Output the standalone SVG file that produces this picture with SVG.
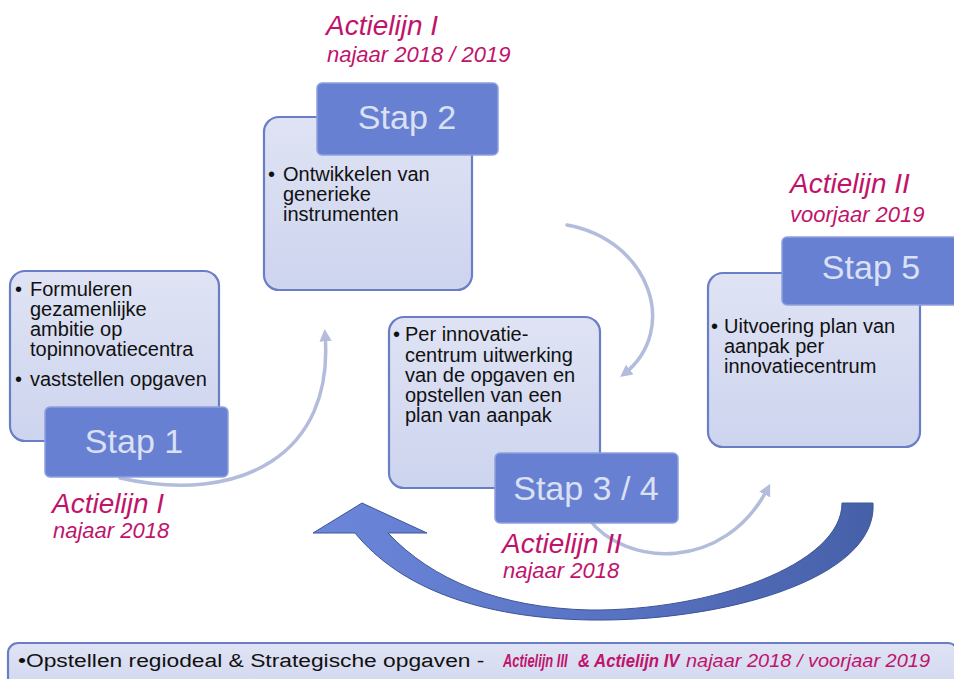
<svg xmlns="http://www.w3.org/2000/svg" width="954" height="679" viewBox="0 0 954 679">
<defs>
<linearGradient id="lg" x1="0" y1="0" x2="0" y2="1">
<stop offset="0" stop-color="#dfe3f4"/>
<stop offset="1" stop-color="#cdd4ee"/>
</linearGradient>
<linearGradient id="big" x1="0" y1="0" x2="1" y2="0">
<stop offset="0" stop-color="#6c86da"/>
<stop offset="0.6" stop-color="#5670c0"/>
<stop offset="1" stop-color="#4660a8"/>
</linearGradient>
<marker id="ah" viewBox="0 0 10 10" refX="6" refY="5" markerWidth="3.5" markerHeight="3.5" orient="auto-start-reverse" markerUnits="strokeWidth">
<path d="M0,0 L10,5 L0,10 z" fill="#b4bcdc"/>
</marker>
</defs>
<style>
.light{fill:url(#lg);stroke:#6a7ec6;stroke-width:2.2}
.dark{fill:#6880d2;stroke:#8fa0e0;stroke-width:1.5}
.step{font-family:"Liberation Sans",Arial,sans-serif;font-size:34px;fill:#dbe1f4;text-anchor:middle}
.body{font-family:"Liberation Sans",Arial,sans-serif;font-size:20px;fill:#111}
.al{font-family:"Liberation Sans",Arial,sans-serif;font-style:italic;fill:#c0146c}
.bt{font-family:"Liberation Sans",Arial,sans-serif;font-size:19px}
.arc{fill:none;stroke:#b4bcdc;stroke-width:3.5;stroke-linecap:round}
</style>
<rect width="954" height="679" fill="#ffffff"/>

<g id="connectors">
<path class="arc" d="M 120 478 C 240 505 335 455 325 334" marker-end="url(#ah)"/>
<path class="arc" d="M 567 225 C 650 240 680 330 624 374" marker-end="url(#ah)"/>
<path class="arc" d="M 588 518 C 625 568 725 572 768 488" marker-end="url(#ah)"/>
<path d="M 873 503 C 878 580 720 622 590 620 C 480 618 400 588 355 533 L 313 533 L 362 503 L 427 533 L 388 533 C 432 580 500 608 590 610 C 710 611 842 565 842 503 Z" fill="url(#big)" stroke="#3e5498" stroke-width="1"/>
</g>

<g id="step1">
<rect class="light" x="10" y="271" width="209" height="170" rx="15"/>
<text class="body"><tspan x="15" y="296">•</tspan><tspan x="30" y="296">Formuleren</tspan><tspan x="30" y="316">gezamenlijke</tspan><tspan x="30" y="336">ambitie op</tspan><tspan x="30" y="356">topinnovatiecentra</tspan><tspan x="15" y="386">•</tspan><tspan x="30" y="386">vaststellen opgaven</tspan></text>
<rect class="dark" x="45" y="407" width="183" height="70" rx="5"/>
<text class="step" x="134" y="453">Stap 1</text>
<text class="al" x="52" y="513" font-size="28">Actielijn I</text>
<text class="al" x="53" y="538" font-size="22">najaar 2018</text>
</g>

<g id="step2">
<rect class="light" x="264" y="117" width="208" height="173" rx="15"/>
<rect class="dark" x="317" y="83" width="181" height="72" rx="5"/>
<text class="step" x="407" y="129">Stap 2</text>
<text class="body"><tspan x="268" y="181">•</tspan><tspan x="283" y="181">Ontwikkelen van</tspan><tspan x="283" y="201">generieke</tspan><tspan x="283" y="221">instrumenten</tspan></text>
<text class="al" x="326" y="35" font-size="28">Actielijn I</text>
<text class="al" x="327" y="62" font-size="22">najaar 2018 / 2019</text>
</g>

<g id="step34">
<rect class="light" x="389" y="317" width="211" height="171" rx="15"/>
<text class="body"><tspan x="393" y="341">•</tspan><tspan x="405" y="341">Per innovatie-</tspan><tspan x="405" y="362">centrum uitwerking</tspan><tspan x="405" y="382">van de opgaven en</tspan><tspan x="405" y="402">opstellen van een</tspan><tspan x="405" y="422">plan van aanpak</tspan></text>
<rect class="dark" x="495" y="453" width="183" height="70" rx="5"/>
<text class="step" x="586" y="500">Stap 3 / 4</text>
<text class="al" x="502" y="553" font-size="28">Actielijn II</text>
<text class="al" x="503" y="578" font-size="22">najaar 2018</text>
</g>

<g id="step5">
<rect class="light" x="708" y="273" width="212" height="174" rx="15"/>
<rect class="dark" x="782" y="237" width="180" height="68" rx="5"/>
<text class="step" x="871" y="279">Stap 5</text>
<text class="body"><tspan x="711" y="333">•</tspan><tspan x="724" y="333">Uitvoering plan van</tspan><tspan x="724" y="353">aanpak per</tspan><tspan x="724" y="373">innovatiecentrum</tspan></text>
<text class="al" x="790" y="193" font-size="28">Actielijn II</text>
<text class="al" x="790" y="222" font-size="22">voorjaar 2019</text>
</g>

<g id="bottom">
<rect class="light" x="8" y="643" width="950" height="60" rx="10"/>
<text class="bt" transform="translate(18,667) scale(1.2,1)" fill="#111">•Opstellen regiodeal &amp; Strategische opgaven -</text>
<text class="bt" transform="translate(503,667) scale(0.68,1)" fill="#c0146c" font-weight="bold" font-style="italic">Actielijn III</text>
<text class="bt" transform="translate(578,667) scale(0.88,1)" fill="#c0146c" font-weight="bold" font-style="italic">&amp; Actielijn IV</text>
<text class="bt" x="686" y="667" fill="#c0146c" font-style="italic" textLength="244" lengthAdjust="spacingAndGlyphs">najaar 2018 / voorjaar 2019</text>
</g>
</svg>
